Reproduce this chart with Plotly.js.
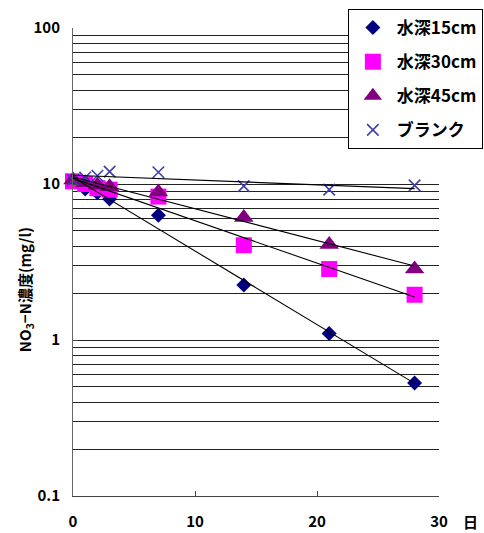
<!DOCTYPE html>
<html>
<head>
<meta charset="utf-8">
<script src="https://cdn.plot.ly/plotly-3.0.1.min.js"></script>
<style>html,body{margin:0;padding:0;background:#fff;}#chart{width:484px;height:533px;}</style>
</head>
<body>
<div id="chart"></div>
<script>
// ---- data ----
var days = [0, 1, 2, 3, 7, 14, 21, 28];
var depth15 = [10.5, 9.3, 8.8, 8.0, 6.3, 2.25, 1.1, 0.53];
var depth30 = [10.4, 10.0, 9.4, 9.2, 8.3, 4.05, 2.85, 1.95];
var depth45 = [10.6, 10.2, 9.8, 9.6, 8.9, 6.1, 4.1, 2.85];
var blank   = [10.6, 11.0, 11.3, 12.0, 11.9, 9.7, 9.2, 9.8];
var seriesNames = ['水深15cm', '水深30cm', '水深45cm', 'ブランク'];
var xTickVals = [0, 10, 20, 30];
var yLabelVals = [0.1, 1, 10, 100];
var yLabelText = ['0.1', '1', '10', '100'];

// gridline values (1..9 per decade), no line at 100
var gridVals = [];
[0.1, 1, 10].forEach(function (d) {
  for (var k = 1; k <= 9; k++) gridVals.push(+(d * k).toPrecision(3));
});

// exponential trend (least squares on ln y), as Excel does
function expFit(xs, ys) {
  var n = xs.length, mx = 0, my = 0;
  var ly = ys.map(function (v) { return Math.log(v); });
  for (var i = 0; i < n; i++) { mx += xs[i]; my += ly[i]; }
  mx /= n; my /= n;
  var sxy = 0, sxx = 0;
  for (i = 0; i < n; i++) { sxy += (xs[i] - mx) * (ly[i] - my); sxx += (xs[i] - mx) * (xs[i] - mx); }
  var b = sxy / sxx, a = my - b * mx;
  var tx = [], ty = [];
  var x0 = Math.min.apply(null, xs), x1 = Math.max.apply(null, xs);
  for (var j = 0; j <= 56; j++) { var x = x0 + (x1 - x0) * j / 56; tx.push(x); ty.push(Math.exp(a + b * x)); }
  return { x: tx, y: ty };
}

var font = 'Noto Sans CJK JP, sans-serif';
var datasets = [depth15, depth30, depth45, blank];
var markers = [
  { symbol: 'diamond', size: 11.5, color: '#000080' },
  { symbol: 'square', size: 16, color: '#FF00FF' },
  { symbol: 'triangle-up', size: 17, color: '#800080' },
  { symbol: 'x-thin-open', size: 11.5, color: '#3F3FAA', line: { color: '#3F3FAA', width: 1.6 } }
];

var traces = [];
datasets.forEach(function (ys, i) {
  traces.push({
    x: days, y: ys, type: 'scatter', mode: 'markers', name: seriesNames[i],
    legendgroup: 'g' + i, marker: markers[i], cliponaxis: false
  });
});
datasets.forEach(function (ys, i) {
  var f = expFit(days, ys);
  traces.push({
    x: f.x, y: f.y, type: 'scatter', mode: 'lines', showlegend: false,
    line: { color: '#000', width: 1.1 }, hoverinfo: 'skip'
  });
});
// overlay axis carrying the decade tick labels
traces.push({ x: [0], y: [1], yaxis: 'y2', type: 'scatter', mode: 'markers', marker: { opacity: 0 }, showlegend: false, hoverinfo: 'skip' });

var layout = {
  width: 484, height: 533,
  margin: { l: 73, r: 45, t: 28, b: 37, autoexpand: false },
  paper_bgcolor: '#fff', plot_bgcolor: '#fff',
  font: { family: font, size: 15, color: '#000', weight: 'bold' },
  showlegend: true,
  legend: {
    x: 0.751, y: 1.0406, xanchor: 'left', yanchor: 'top',
    bgcolor: '#fff', bordercolor: '#000', borderwidth: 1,
    font: { family: font, size: 17, color: '#000', weight: 'bold' },
    tracegroupgap: 9, itemwidth: 38
  },
  xaxis: {
    range: [0, 30], tickvals: xTickVals, ticks: 'inside', ticklen: 5, tickcolor: '#444',
    showgrid: false, zeroline: false, showline: true, linecolor: '#444', linewidth: 1.2,
    ticklabelstandoff: 12, tickfont: { family: font, size: 15, weight: 'bold' }
  },
  yaxis: {
    type: 'log', range: [-1, 2], tickvals: gridVals, ticks: '', showticklabels: false,
    showgrid: true, gridcolor: '#222', gridwidth: 1, zeroline: false,
    showline: true, linecolor: '#666', linewidth: 1.2
  },
  yaxis2: {
    type: 'log', range: [-1, 2], overlaying: 'y', side: 'left',
    tickvals: yLabelVals, ticktext: yLabelText, ticks: 'inside', ticklen: 5, tickcolor: '#444',
    showgrid: false, zeroline: false, showline: false,
    ticklabelstandoff: 12, tickfont: { family: font, size: 15, weight: 'bold' }
  },
  annotations: [
    { text: 'NO<sub>3</sub>−N濃度(mg/l)', textangle: -90, xref: 'paper', yref: 'paper',
      x: -0.131, y: 0.44, xanchor: 'center', yanchor: 'middle', showarrow: false,
      font: { family: font, size: 15, weight: 'bold' } },
    { text: '日', xref: 'paper', yref: 'paper', x: 1.085, y: -0.054,
      xanchor: 'center', yanchor: 'middle', showarrow: false,
      font: { family: font, size: 15, weight: 'bold' } }
  ]
};

Plotly.newPlot('chart', traces, layout, { displayModeBar: false, staticPlot: true });
</script>
</body>
</html>
